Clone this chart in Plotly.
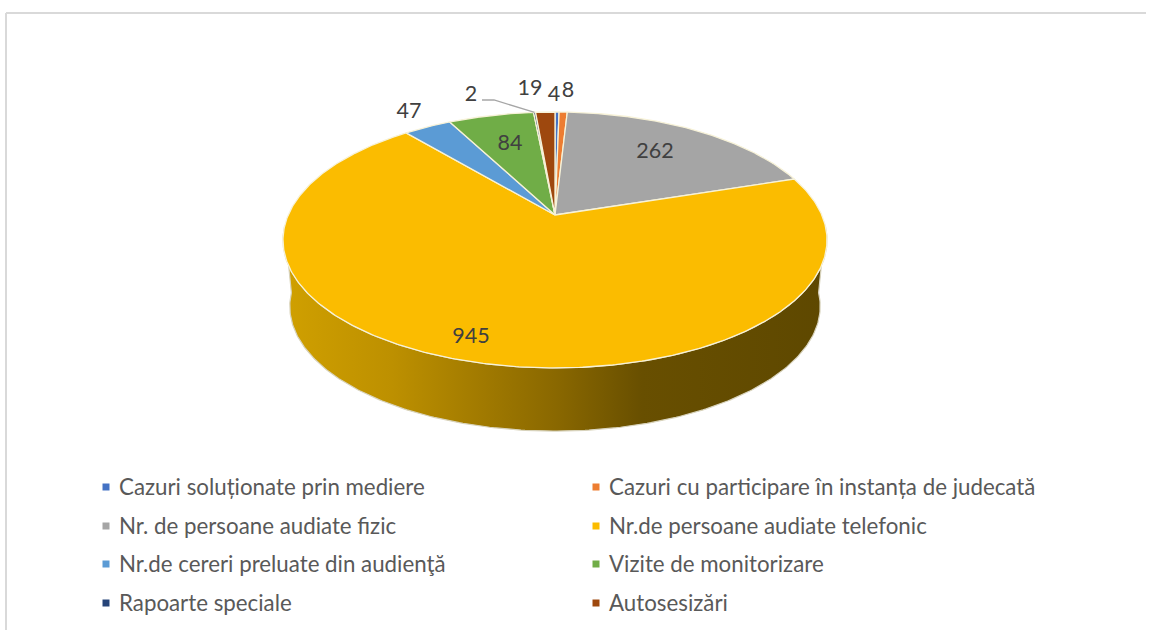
import numpy as np
import plotly.graph_objects as go

categories = ["Cazuri soluționate prin mediere", "Cazuri cu participare în instanța de judecată",
              "Nr. de persoane audiate fizic", "Nr.de persoane audiate telefonic",
              "Nr.de cereri preluate din audienţă", "Vizite de monitorizare",
              "Rapoarte speciale", "Autosesizări"]
values = [4, 8, 262, 945, 47, 84, 2, 19]
colors = ["#4472C4", "#ED7D31", "#A5A5A5", "#FBBC00", "#5B9BD5", "#70AD47", "#264478", "#9E480E"]

# projection of the tilted disc
CX, CY = 555.0, 215.0
P, Q, S = 0.195, 123.1, 266.8
DEPTH_Y, DEPTH_S = 67.0, 0.975


def project(theta, r=1.0, drop=0.0, scale=1.0):
    u, v = r * np.sin(theta), r * np.cos(theta)
    w = 1 + P * v
    return CX + scale * S * u / w, CY + drop - scale * Q * v / w


fig = go.Figure()

# side wall
t = np.radians(np.linspace(95, 265, 240))
xt, yt = project(t)
xb, yb = project(t[::-1], drop=DEPTH_Y, scale=DEPTH_S)
fig.add_trace(go.Scatter(
    x=np.r_[xt, xb, xt[0]], y=np.r_[yt, yb, yt[0]], mode="lines", fill="toself",
    line=dict(color="#D8D3BC", width=1.2), hoverinfo="skip", showlegend=False,
    fillgradient=dict(type="horizontal", start=283, stop=827,
                      colorscale=[[0, "#D0A000"], [0.2, "#BD9000"], [0.5, "#8A6800"],
                                  [0.66, "#684F00"], [1, "#5E4800"]])))

# top surface
edges = np.cumsum([0] + values) / sum(values) * 2 * np.pi
for i, name in enumerate(categories):
    a = np.linspace(edges[i], edges[i + 1], max(4, int(values[i] / 2)))
    xs, ys = project(a)
    fig.add_trace(go.Scatter(
        x=np.r_[CX, xs, CX], y=np.r_[CY, ys, CY], mode="lines", fill="toself",
        fillcolor=colors[i], line=dict(color="#F7F2D8", width=1.3),
        name=name, text=f"{name}: {values[i]}", hoverinfo="text", showlegend=False))

# data labels
label_pos = [(554, 96), (568, 92), (655, 153), (471, 338), (409, 113), (510, 145), (471, 96), (530, 90)]
fig.add_trace(go.Scatter(
    x=[p[0] for p in label_pos], y=[p[1] for p in label_pos], mode="text",
    text=[str(v) for v in values], textposition="middle center",
    textfont=dict(family="Lato", size=21.5, color="#404040"), hoverinfo="skip", showlegend=False))

# leader line of the smallest slice
mid = (edges[6] + edges[7]) / 2
lx, ly = project(mid)
fig.add_trace(go.Scatter(x=[482, 494, float(lx)], y=[100, 100, float(ly)], mode="lines",
                         line=dict(color="#A6A6A6", width=1.3), hoverinfo="skip", showlegend=False))

# key
key_x = [106, 596]
key_y = [487, 526, 564, 603]
for i, name in enumerate(categories):
    fig.add_trace(go.Scatter(
        x=[key_x[i % 2]], y=[key_y[i // 2]], mode="markers", name=name,
        marker=dict(symbol="square", size=7, color=colors[i]), hoverinfo="skip", showlegend=False))
    fig.add_annotation(x=key_x[i % 2] + 11, y=key_y[i // 2] - 1, text=name, showarrow=False, xanchor="left",
                       yanchor="middle", font=dict(family="Lato", size=22.3, color="#595959"))

# frame of the chart area
fig.add_shape(type="line", x0=6, x1=1155 - 9, y0=13, y1=13, line=dict(color="#D9D9D9", width=2))
fig.add_shape(type="line", x0=6, x1=6, y0=13, y1=630, line=dict(color="#D9D9D9", width=2))

fig.update_layout(width=1155, height=630, margin=dict(l=0, r=0, t=0, b=0),
                  paper_bgcolor="white", plot_bgcolor="white", showlegend=False,
                  xaxis=dict(range=[0, 1155], visible=False, fixedrange=True),
                  yaxis=dict(range=[630, 0], visible=False, fixedrange=True))
fig.write_html("out.html", config=dict(displayModeBar=False),
               post_script="document.body.style.margin='0';document.body.style.overflow='hidden';")
